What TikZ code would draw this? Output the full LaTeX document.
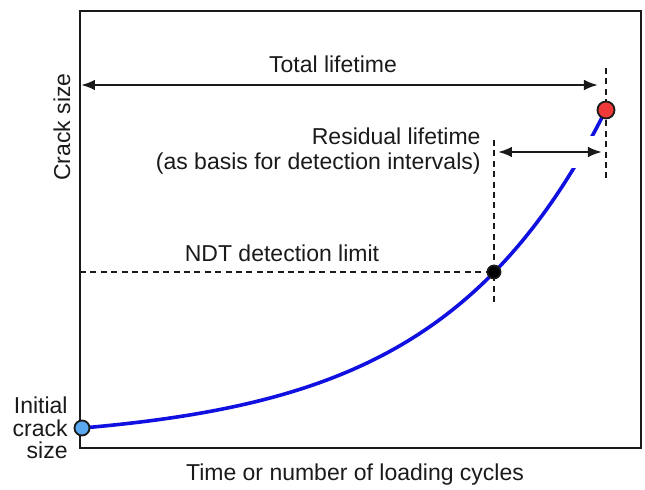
\documentclass[tikz,border=0pt]{standalone}
\usepackage{fontspec}
\setmainfont{Liberation Sans}
\usetikzlibrary{arrows.meta,positioning,calc}
\definecolor{ink}{HTML}{1A1A1A}
\definecolor{curveblue}{HTML}{1010E0}
\definecolor{dotred}{HTML}{F03A3A}
\definecolor{dotblue}{HTML}{5AA8F0}
\tikzset{
  plotframe/.style={draw=ink,line width=1.2pt},
  growth/.style={draw=curveblue,line width=1.8pt},
  lifearr/.style={{Latex[length=7pt,width=5.4pt]}-{Latex[length=7pt,width=5.4pt]},line width=1.2pt,draw=ink},
  guide/.style={draw=ink,line width=1.1pt,dash pattern=on 3pt off 2.2pt},
  crackdot/.style={circle,draw=ink,line width=0.9pt,inner sep=0pt},
  plottext/.style={font=\fontsize{11.5}{12.5}\selectfont,text=ink,inner sep=0pt}
}

\begin{document}
\begin{tikzpicture}[x=0.5pt,y=-0.5pt]
  \useasboundingbox (0,0) rectangle (645,490);
  \draw[plotframe] (80,11) rectangle (641,448);

  % crack growth curve, a(N) grows exponentially
  \draw[growth] plot[domain=2:526,samples=90,smooth] ({80+\x},{442.4-14.2*exp(0.006*\x)});

  \coordinate (init) at (82,428);
  \coordinate (det) at (494,272);
  \coordinate (fail) at (606,110);

  \coordinate (totL) at (81,85);
  \coordinate (totR) at (fail |- totL);
  \coordinate (resL) at (det |- 0,152);
  \coordinate (resR) at (fail |- resL);
  \coordinate (limL) at (80,272);
  \coordinate (detT) at (det |- 0,140);
  \coordinate (detB) at (det |- 0,305);
  \coordinate (failT) at (fail |- 0,68);
  \coordinate (failB) at (fail |- 0,180);

  % clear the curve under the residual arrow
  \fill[white] ($(resR)+(-44,-16)$) rectangle ($(resR)+(-4,16)$);

  \draw[guide] (limL) -- (det);
  \draw[guide] (detT) -- (detB);
  \draw[guide] (failT) -- (fail);
  \draw[guide] (fail) -- (failB);

  \draw[lifearr,shorten >=4pt] (totL) -- (totR);
  \draw[lifearr,shorten <=2pt,shorten >=2pt] (resL) -- (resR);

  \node[crackdot,fill=dotblue,minimum size=7.5pt] (initdot) at (init) {};
  \node[crackdot,fill=black,minimum size=6.5pt] (detdot) at (det) {};
  \node[crackdot,fill=dotred,minimum size=8.5pt] (faildot) at (fail) {};

  \node[plottext] (total) at (333,64) {Total lifetime};
  \node[plottext,align=right,anchor=east] (resid) at (481,151)
    {Residual lifetime\\(as basis for detection intervals)};
  \node[plottext] (ndt) at (282,253) {NDT detection limit};
  \node[plottext,rotate=90] (ylab) at (62,127) {Crack size};
  \node[plottext,align=right,anchor=east,font=\fontsize{11.5}{11.25}\selectfont] (initlab) at (68,428)
    {Initial\\crack\\size};
  \node[plottext] (xlab) at (355,475) {Time or number of loading cycles};
\end{tikzpicture}
\end{document}
